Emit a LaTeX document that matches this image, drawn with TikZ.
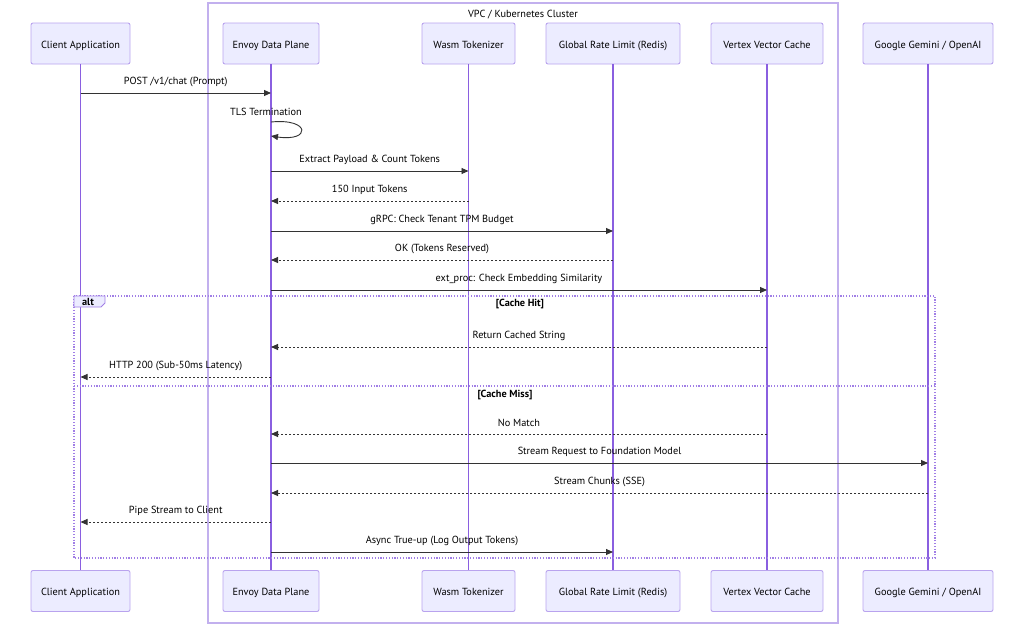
\documentclass[tikz,border=0pt]{standalone}
\usepackage{fontspec}
\setmainfont{PT Sans}
\usetikzlibrary{arrows.meta,calc}
\definecolor{actfill}{HTML}{ECECFF}
\definecolor{actborder}{HTML}{B9A3EE}
\definecolor{lifeline}{HTML}{8A5FE0}
\definecolor{msgcol}{HTML}{333333}
\definecolor{vpcborder}{HTML}{C2B0EE}
\tikzset{
  actor/.style={draw=actborder, fill=actfill, line width=0.9pt, rounded corners=2pt, minimum height=41pt, font=\fontsize{10.3}{12}\selectfont, inner sep=0pt, text height=9pt, text depth=0pt},
  lline/.style={draw=lifeline, line width=1.1pt},
  msg/.style={draw=msgcol, line width=0.9pt, -{Triangle[length=7pt,width=6pt]}},
  reply/.style={msg, dash pattern=on 2pt off 2pt},
  mlabel/.style={font=\fontsize{10.3}{12}\selectfont, text=black, inner sep=0pt},
  altbox/.style={draw=lifeline!80, line width=1.2pt, dash pattern=on 1.2pt off 1.6pt},
  sect/.style={font=\bfseries\fontsize{10.3}{12}\selectfont, inner sep=0pt},
}
\newcommand\mymsg[5]{\draw[#1] (#2 |- 0,#4) -- (#3 |- 0,#4) node[mlabel, midway, yshift=11pt] {#5};}
\begin{document}
\begin{tikzpicture}[x=1pt,y=-1pt]
\useasboundingbox (0,0) rectangle (1024,624);
% VPC box
\draw[vpcborder, line width=1.3pt] (208,3) rectangle (838,623);
\node[mlabel] (vpc) at (523,15) {VPC / Kubernetes Cluster};
% actors top
\node[actor, minimum width=99pt] (cA) at (80.5,43.5) {Client Application};
\node[actor, minimum width=96pt] (eA) at (271,43.5) {Envoy Data Plane};
\node[actor, minimum width=93pt] (wA) at (468.5,43.5) {Wasm Tokenizer};
\node[actor, minimum width=134pt] (gA) at (613,43.5) {Global Rate Limit (Redis)};
\node[actor, minimum width=112pt] (vA) at (767,43.5) {Vertex Vector Cache};
\node[actor, minimum width=130pt] (oA) at (928,43.5) {Google Gemini / OpenAI};
% actors bottom
\node[actor, minimum width=99pt] (cB) at (80.5,591) {Client Application};
\node[actor, minimum width=96pt] (eB) at (271,591) {Envoy Data Plane};
\node[actor, minimum width=93pt] (wB) at (468.5,591) {Wasm Tokenizer};
\node[actor, minimum width=134pt] (gB) at (613,591) {Global Rate Limit (Redis)};
\node[actor, minimum width=112pt] (vB) at (767,591) {Vertex Vector Cache};
\node[actor, minimum width=130pt] (oB) at (928,591) {Google Gemini / OpenAI};
% lifelines
\foreach \p in {c,e,w,g,v,o} {\draw[lline] (\p A.south) -- (\p B.north);}
% messages
\mymsg{msg}{cA}{eA}{93}{POST /v1/chat (Prompt)}
\node[mlabel] (tls) at (266,112) {TLS Termination};
\coordinate (l1) at (eA |- 0,122);
\coordinate (l2) at (eA |- 0,136);
\draw[msg] (l1) .. controls ($(l1)+(40,-4)$) and ($(l2)+(40,6)$) .. (l2);
\mymsg{msg}{eA}{wA}{171}{Extract Payload \& Count Tokens}
\mymsg{reply}{wA}{eA}{201}{150 Input Tokens}
\mymsg{msg}{eA}{gA}{231}{gRPC: Check Tenant TPM Budget}
\mymsg{reply}{gA}{eA}{260}{OK (Tokens Reserved)}
\mymsg{msg}{eA}{vA}{290}{ext\_proc: Check Embedding Similarity}
\mymsg{reply}{vA}{eA}{347}{Return Cached String}
\mymsg{reply}{eA}{cA}{377}{HTTP 200 (Sub-50ms Latency)}
\mymsg{reply}{vA}{eA}{434}{No Match}
\mymsg{msg}{eA}{oA}{463}{Stream Request to Foundation Model}
\mymsg{reply}{oA}{eA}{493}{Stream Chunks (SSE)}
\mymsg{reply}{eA}{cA}{522}{Pipe Stream to Client}
\mymsg{msg}{eA}{gA}{552}{Async True-up (Log Output Tokens)}
% alt frame
\draw[altbox] (74,296) rectangle (935,558);
\draw[altbox] (74,386) -- (935,386);
\draw[draw=lifeline!80, fill=actfill, line width=0.8pt] (74,296) -- (105,296) -- (105,303) -- (101,307) -- (74,307) -- cycle;
\node[sect] (alt) at (88,301.5) {alt};
\node[sect] (hit) at (520,304.5) {[Cache Hit]};
\node[sect] (miss) at (505,394.5) {[Cache Miss]};
\end{tikzpicture}
\end{document}
